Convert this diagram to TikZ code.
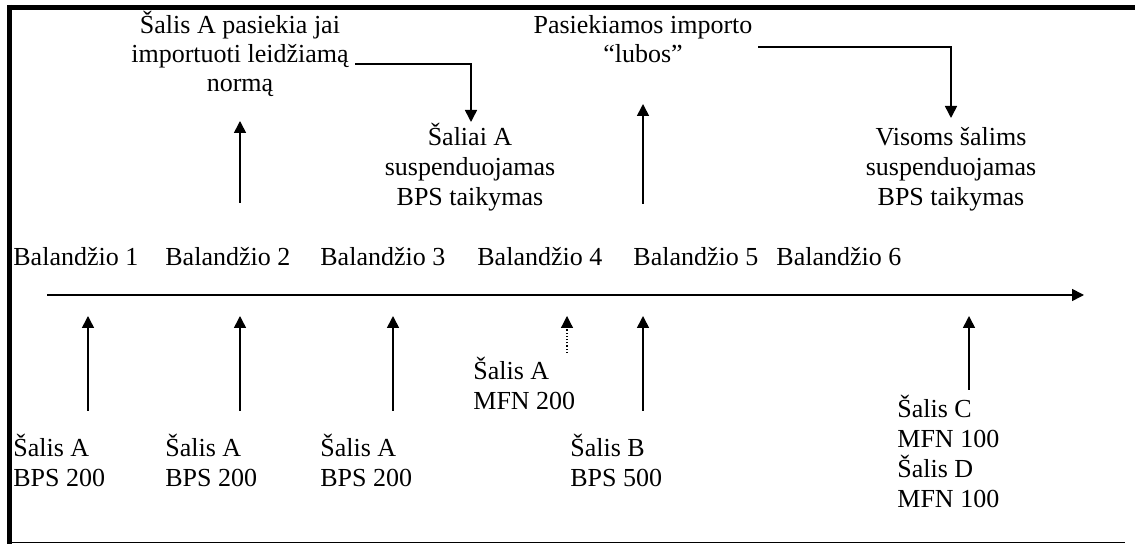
\documentclass[tikz,border=0pt]{standalone}
\usepackage{fontspec}
\setmainfont{Liberation Serif}
\usetikzlibrary{arrows.meta}
\begin{document}
\begin{tikzpicture}[x=0.5pt,y=-0.5pt,
  txt/.style={font=\fontsize{13pt}{15pt}\selectfont, inner sep=0pt, align=left, anchor=base west},
  ctxt/.style={font=\fontsize{13pt}{15pt}\selectfont, inner sep=0pt, align=center, anchor=base},
  ttxt/.style={font=\fontsize{13pt}{14.5pt}\selectfont, inner sep=0pt, align=center, anchor=base},
  arr/.style={line width=0.8pt, -{Triangle[length=6pt,width=6pt]}},
  darr/.style={line width=0.6pt, densely dotted, -{Triangle[length=6pt,width=6pt]}},
  framethick/.style={line width=2.5pt},
  framethin/.style={line width=0.8pt}]
\useasboundingbox (0,0) rectangle (1135,544);

% frame
\coordinate (ftl) at (7,7.5);
\coordinate (ftr) at (1135,7.5);
\coordinate (flt) at (9.5,5);
\coordinate (flb) at (9.5,544);
\coordinate (fbl) at (8,542.5);
\coordinate (fbr) at (1125,542.5);
\draw[framethick] (ftl) -- (ftr);
\draw[framethick] (flt) -- (flb);
\draw[framethin] (fbl) -- (fbr);

% top texts (anchor = baseline of last line)
\node[ttxt] (top1) at (240,92) {Šalis A pasiekia jai\\importuoti leidžiamą\\normą};
\node[ttxt] (top2) at (643,63) {Pasiekiamos importo\\“lubos”};
\node[ctxt] (mid1) at (470,206) {Šaliai A\\suspenduojamas\\BPS taikymas};
\node[ctxt] (mid2) at (951,206) {Visoms šalims\\suspenduojamas\\BPS taikymas};

% dates
\node[txt] (b1) at (13,266) {Balandžio 1};
\node[txt] (b2) at (165,266) {Balandžio 2};
\node[txt] (b3) at (320,266) {Balandžio 3};
\node[txt] (b4) at (477,266) {Balandžio 4};
\node[txt] (b5) at (633,266) {Balandžio 5};
\node[txt] (b6) at (776,266) {Balandžio 6};

% timeline
\coordinate (tl0) at (47,295);
\coordinate (tl1) at (1084,295);
\draw[arr] (tl0) -- (tl1);

% lower texts
\node[txt] (l1) at (13,487) {Šalis A\\BPS 200};
\node[txt] (l2) at (165,487) {Šalis A\\BPS 200};
\node[txt] (l3) at (320,487) {Šalis A\\BPS 200};
\node[txt] (l4) at (473,410) {Šalis A\\MFN 200};
\node[txt] (l5) at (570,487) {Šalis B\\BPS 500};
\node[txt] (l6) at (897,508) {Šalis C\\MFN 100\\Šalis D\\MFN 100};

% lower arrows
\coordinate (a1s) at (88,411);   \coordinate (a1e) at (88,316);
\coordinate (a2s) at (240,411);  \coordinate (a2e) at (240,316);
\coordinate (a3s) at (393,411);  \coordinate (a3e) at (393,316);
\coordinate (a4s) at (567,353);  \coordinate (a4e) at (567,316);
\coordinate (a5s) at (643,411);  \coordinate (a5e) at (643,316);
\coordinate (a6s) at (969,390);  \coordinate (a6e) at (969,316);
\draw[arr] (a1s) -- (a1e);
\draw[arr] (a2s) -- (a2e);
\draw[arr] (a3s) -- (a3e);
\draw[darr] (a4s) -- (a4e);
\draw[arr] (a5s) -- (a5e);
\draw[arr] (a6s) -- (a6e);

% upper arrows
\coordinate (u1s) at (240,203);  \coordinate (u1e) at (240,121);
\coordinate (u2s) at (643,204);  \coordinate (u2e) at (643,104);
\draw[arr] (u1s) -- (u1e);
\draw[arr] (u2s) -- (u2e);

% elbow connectors
\coordinate (c1s) at (355,64);  \coordinate (c1e) at (471,122);
\coordinate (c2s) at (758,47);  \coordinate (c2e) at (951,118);
\draw[arr] (c1s) -| (c1e);
\draw[arr] (c2s) -| (c2e);
\end{tikzpicture}
\end{document}
